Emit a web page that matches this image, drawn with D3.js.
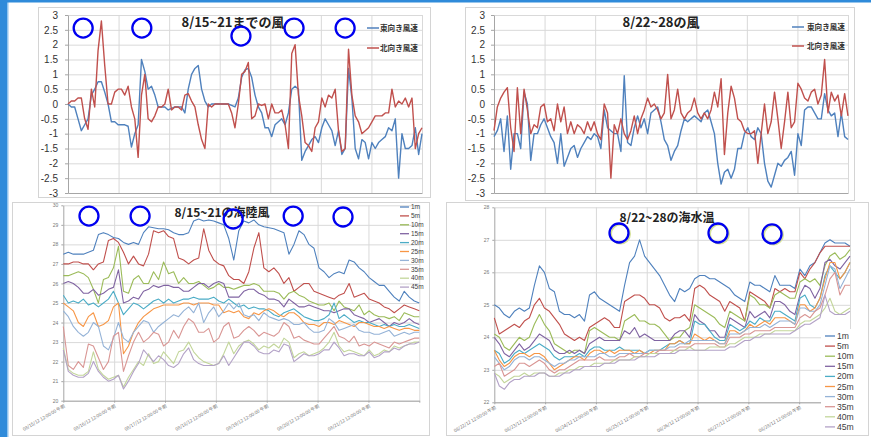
<!DOCTYPE html>
<html><head><meta charset="utf-8">
<script src="https://cdn.jsdelivr.net/npm/d3@7"></script>
<style>body{margin:0;background:#fff}svg{display:block}text{font-family:"Noto Sans CJK JP","Noto Sans",sans-serif}text.lat{font-family:"Liberation Sans",Arial,sans-serif}</style>
</head><body><svg id="c" width="871" height="437"></svg>
<script>
// ---------- DATA ----------
const windSeriesNames = ["東向き風速","北向き風速"];
const windTicks = [3,2.5,2,1.5,1,0.5,0,-0.5,-1,-1.5,-2,-2.5,-3];
const wind1East = [0,-0.1,-0.1,-0.5,-0.9,-0.7,-0.5,0.3,0.5,0.75,0.75,0.4,0,-0.6,-0.6,-0.7,-0.7,-0.7,-0.75,-1.45,-1.0,-0.7,1.5,1.1,0.5,0.6,0.3,-0.1,-0.1,-0.1,-0.2,-0.15,-0.1,-0.1,-0.1,-0.3,0.5,1.0,1.2,1.3,0.5,0.1,-0.1,0,0,0,0,0,0,-0.05,-0.1,0.2,0.9,1.15,1.2,0.9,0.3,-0.1,-0.3,-0.8,-0.8,-1.1,-0.7,-0.6,-0.5,-0.7,-0.3,0.5,0.6,0.5,-1.9,-1.6,-1.4,-1.2,-1.1,-1.3,-0.8,-0.5,-0.7,-0.9,-1.4,-0.9,-1.7,-1.5,1.2,0.2,-1.5,-1.85,-1.2,-1.3,-1.85,-1.3,-1.5,-1.3,-1.2,-1.1,-0.8,-0.9,-0.5,-2.5,-1.0,-1.5,-1.5,-1.4,-0.8,-1.7,-1.0];
const wind1North = [0,0.1,0.1,0.2,0.2,-0.5,-0.85,0.5,-0.1,1.8,2.8,1.3,0.0,0.0,0.4,0.5,0.5,0.3,0.6,-0.1,-0.5,-1.8,0.3,1.0,-0.5,-0.6,-0.4,-0.1,-0.1,0,0.5,-0.2,-0.1,-0.1,-0.2,0.3,0.35,0.1,-0.1,-0.7,-1.2,-1.5,0.0,-0.1,0,0,0,0,0,-0.3,-0.8,0.0,1.0,1.1,1.4,-0.5,-0.4,0.0,-0.05,0.0,-0.5,0.0,-0.3,-0.3,-0.2,-0.7,-1.5,1.7,2.0,0.3,-0.4,-1.3,-1.4,-1.6,-0.8,-0.6,0.2,-0.1,0.3,0.2,0.5,-0.9,-1.6,-1.5,1.85,0.3,-0.4,-0.6,-1.0,-0.9,-0.8,-0.6,-0.4,-0.4,-0.4,-0.3,-0.3,0.5,-0.1,0.1,0.0,0.2,-0.1,0.2,-1.5,-1.0,-0.8];
const wind2East = [-1.1,-0.9,-0.5,-1.6,-0.4,-2.2,-1.0,-1.0,-1.5,0.4,0.0,-1.9,-1.0,-1.0,-0.7,-0.5,-0.8,-1.1,-1.3,-2.0,-1.0,-2.1,-1.8,-1.5,-1.4,-1.8,-1.5,-1.3,-1.1,-1.2,-1.0,-1.1,-1.5,-0.2,-0.8,-0.9,-1.0,-1.0,-1.6,0.95,-1.3,-1.4,-0.8,-0.4,-0.8,-0.5,-1.0,-0.3,-0.2,-0.1,-0.6,-1.2,-1.4,-1.9,-1.6,-1.4,-0.9,-0.5,-0.6,-0.5,-0.4,-0.5,-0.6,-0.3,-0.2,-0.6,-1.0,-2.0,-2.7,-2.3,-2.2,-2.5,-2.2,-1.5,-1.5,-1.0,-0.8,-1.1,-1.2,-0.8,-1.0,-2.0,-2.6,-2.8,-2.4,-2.0,-2.1,-1.9,-1.8,-1.6,-2.4,-1.0,-1.4,-0.2,-0.1,-0.1,-0.3,-0.5,-0.5,0.35,-0.2,-0.4,-0.3,-1.1,-0.3,-1.1,-1.2];
const wind2North = [-0.9,-0.1,0.2,0.4,0.55,-0.8,-1.6,0.55,-1.0,0.5,-0.2,-1.0,-0.7,-0.8,-0.1,0.0,-0.6,-0.5,-0.9,0.0,-0.6,-0.1,-1.0,-0.6,-1.0,-0.7,-0.8,-1.0,-0.6,-0.9,-0.6,-1.0,-1.2,0.0,-0.3,-2.5,-0.7,-1.0,-0.5,-1.0,-1.2,-0.9,-0.4,-1.0,-0.5,-0.2,0.2,-0.1,0.0,-0.2,-0.5,-0.3,1.0,-0.5,-0.2,0.5,-0.3,-0.5,-0.3,-0.2,0.2,-0.3,-0.5,-0.3,-0.5,-0.2,0.4,-0.1,0.85,-1.7,-0.3,0.6,0.2,-0.5,-0.6,-0.9,-1.0,-1.0,-0.9,-2.0,-1.0,0.0,-1.0,-0.6,0.4,-0.5,-1.5,-0.6,0.4,-0.8,-0.6,0.7,0.5,0.2,0.1,0.4,0.5,0.0,0.3,1.5,-0.3,0.4,0.1,0.3,-0.4,0.35,-0.4];

const depthNames = ["1m","5m","10m","15m","20m","25m","30m","35m","40m","45m"];
const tempTicksLeft = [30,29,28,27,26,25,24,23,22,21,20];
const tempTicksRight = [28,27,26,25,24,23,22];
const datesLeft = ["08/15/12 12:00:00 午前","08/16/12 12:00:00 午前","08/17/12 12:00:00 午前","08/18/12 12:00:00 午前","08/19/12 12:00:00 午前","08/20/12 12:00:00 午前","08/21/12 12:00:00 午前"];
const datesRight = ["08/22/12 12:00:00 午前","08/23/12 12:00:00 午前","08/24/12 12:00:00 午前","08/25/12 12:00:00 午前","08/26/12 12:00:00 午前","08/27/12 12:00:00 午前","08/28/12 12:00:00 午前"];

const sea1_1m = [27.5,27.6,27.5,27.5,27.5,27.6,27.7,28.5,28.6,28.5,28.35,28.3,28.1,28.0,28.1,28.0,28.6,28.9,28.85,28.8,28.8,28.75,28.6,28.5,28.5,28.6,29.2,29.3,29.2,29.25,29.2,29.1,29.0,28.3,27.2,28.7,29.2,29.1,29.25,29.0,28.9,28.85,28.8,28.7,28.6,27.5,28.0,28.7,28.5,28.0,27.8,26.8,26.6,26.3,26.5,26.6,26.5,27.2,27.1,26.8,26.6,26.3,26.1,25.9,25.9,25.6,25.3,25.1,25.6,25.3,25.1,25.0];
const sea1_5m = [27.0,27.0,27.1,27.1,27.0,27.0,26.7,27.0,27.1,28.2,28.3,28.1,27.6,27.0,27.4,27.0,26.9,27.5,28.7,28.6,28.7,28.4,28.3,27.3,27.2,27.0,27.2,27.3,28.8,27.7,27.2,27.0,26.9,26.4,26.2,26.2,26.0,26.6,27.8,28.6,26.8,26.6,26.8,26.5,26.0,26.3,25.6,25.8,26.0,26.0,25.6,25.5,25.4,25.3,25.2,25.4,25.5,26.0,25.3,25.4,25.5,25.2,25.1,25.0,24.8,24.7,24.5,24.7,24.9,24.8,24.7,24.6];
const sea1_10m = [26.4,26.4,26.5,26.6,26.5,26.3,25.7,25.0,26.2,26.3,26.8,27.9,25.6,25.5,26.2,26.4,26.0,26.0,26.6,26.2,27.1,26.5,26.6,26.0,26.3,26.0,26.0,26.1,25.9,25.7,25.8,26.0,25.8,25.8,25.7,25.8,25.9,25.9,26.0,25.9,25.6,25.6,25.6,25.5,25.2,25.5,25.6,25.4,25.3,25.1,25.0,24.9,24.9,25.0,24.6,25.1,24.8,24.7,24.6,24.9,24.4,24.6,24.4,24.3,24.3,24.2,24.3,24.1,24.5,24.4,24.3,24.3];
const sea1_15m = [26.0,26.1,26.0,25.8,25.5,25.5,25.7,25.4,25.5,25.7,25.8,26.7,25.0,25.1,25.3,25.2,25.6,25.7,25.9,25.8,25.9,25.9,25.8,25.8,25.6,25.6,25.8,26.0,26.0,25.8,26.0,26.1,26.0,25.3,25.3,25.3,25.6,25.7,25.7,25.5,25.4,25.2,25.2,25.1,24.8,25.2,25.0,24.8,24.8,24.9,24.8,24.7,24.6,24.6,24.5,24.6,24.7,24.7,24.4,24.3,24.2,24.0,24.1,24.2,24.0,23.8,24.0,23.9,24.0,24.2,24.0,23.9];
const sea1_20m = [25.4,25.0,25.1,25.0,25.2,24.9,25.0,24.8,25.0,25.2,25.6,25.0,24.4,24.7,25.0,24.9,24.7,24.9,25.1,25.2,25.0,25.2,25.0,25.1,25.2,25.2,25.3,25.2,25.2,25.2,25.3,25.1,25.0,25.2,25.0,24.8,24.9,24.7,24.8,24.7,24.7,24.6,24.4,24.3,24.5,24.6,24.7,24.5,24.3,24.2,24.1,24.1,24.2,24.4,25.0,24.2,24.4,24.2,24.0,24.1,24.0,24.0,23.9,23.8,23.9,23.8,23.9,23.8,23.8,23.9,23.8,23.7];
const sea1_25m = [25.0,24.8,24.6,24.0,23.8,24.3,24.5,23.8,23.9,24.1,24.8,25.0,22.4,22.8,23.5,24.0,24.3,24.5,24.7,24.8,24.9,24.9,24.9,24.9,25.0,25.0,24.9,25.0,25.0,25.0,24.9,24.9,24.5,24.6,24.5,24.6,24.3,24.2,24.5,24.4,24.6,24.7,24.6,24.4,24.3,24.5,24.5,24.3,24.0,23.9,23.9,23.8,24.0,24.0,23.9,24.1,24.0,23.9,23.8,24.0,24.0,23.9,23.8,23.8,23.7,23.8,23.7,23.6,23.7,23.7,23.6,23.6];
const sea1_30m = [24.6,24.3,23.8,23.5,23.3,23.5,24.0,23.8,22.8,22.6,23.2,24.0,23.2,23.0,23.5,23.8,24.1,24.0,23.5,23.8,24.0,24.2,24.4,24.3,24.6,24.8,24.5,25.0,24.0,24.5,24.8,24.3,24.6,25.0,24.7,25.0,24.4,24.3,24.4,24.1,24.5,24.3,24.2,24.1,24.2,24.1,23.9,23.9,24.0,23.7,23.5,23.5,23.6,24.2,24.0,23.6,23.7,23.8,23.9,23.6,23.5,23.5,23.4,23.4,23.5,23.6,23.3,23.4,23.5,23.4,23.5,23.5];
const sea1_35m = [23.8,21.8,21.6,22.0,21.7,22.9,22.8,22.2,21.6,22.0,23.3,23.5,21.5,22.3,23.0,23.5,23.0,23.2,23.5,23.4,22.8,23.0,23.6,23.2,23.8,24.2,24.0,23.5,23.5,23.7,23.0,23.2,23.8,24.0,23.2,23.3,23.6,23.8,23.6,23.3,23.5,23.4,23.3,23.5,24.0,23.8,23.2,23.3,23.1,23.0,22.9,22.9,23.2,23.5,23.8,23.3,23.2,23.0,23.3,22.8,22.9,22.8,23.0,22.9,22.8,22.7,23.0,22.9,23.0,23.1,23.2,23.2];
const sea1_40m = [22.7,21.6,21.4,21.3,21.3,21.5,22.5,21.6,21.3,21.1,21.2,21.3,20.7,21.2,21.6,22.0,21.8,22.4,21.9,22.0,22.5,22.2,21.9,22.5,22.6,23.0,22.5,22.2,22.0,21.9,21.8,21.9,22.4,23.0,22.4,22.8,23.0,23.1,22.9,22.6,22.8,22.7,22.9,22.7,23.2,23.0,22.2,22.4,22.5,22.3,22.4,22.5,22.7,23.0,23.5,22.8,22.5,22.6,22.5,22.4,22.3,22.6,22.3,22.4,22.6,22.5,22.8,22.7,22.8,22.9,23.0,23.0];
const sea1_45m = [22.6,21.5,21.3,21.2,21.2,21.4,22.0,21.5,21.2,21.0,21.1,21.3,20.6,21.0,21.5,21.9,22.6,22.3,22.0,22.3,22.1,21.8,21.7,21.9,22.4,22.7,22.1,21.9,21.8,21.8,21.8,21.9,22.3,21.8,22.2,22.6,23.0,23.0,22.8,22.5,22.4,22.4,22.6,22.5,22.9,22.8,22.0,22.2,22.4,22.3,22.3,22.4,22.6,22.6,23.0,22.7,22.3,22.4,22.4,22.3,22.3,22.5,22.2,22.3,22.5,22.5,22.7,22.6,22.8,22.9,22.9,23.0];

const sea2_1m = [25.0,24.9,24.7,24.6,24.8,24.9,24.8,24.9,25.6,26.2,26.0,25.5,25.4,24.8,24.7,24.7,24.6,24.7,24.5,25.3,25.4,25.2,25.1,25.0,24.9,24.8,25.6,26.3,26.5,27.0,26.5,26.3,26.1,25.9,25.6,25.3,25.1,25.5,25.4,25.5,25.8,25.9,25.9,25.8,25.8,25.7,25.6,25.5,25.3,25.2,25.1,25.7,25.6,25.6,25.5,25.4,25.9,25.6,25.6,25.6,25.5,26.1,25.9,26.2,26.3,26.6,26.9,27.0,26.9,26.9,26.9,26.8];
const sea2_5m = [24.6,24.1,24.2,24.3,24.4,24.3,24.5,24.6,25.0,25.2,24.9,24.8,24.6,24.4,24.1,24.0,23.9,24.0,23.9,24.3,24.4,24.5,24.6,24.5,24.3,24.3,25.1,25.2,25.3,25.3,25.2,25.0,25.0,24.9,24.6,24.5,24.6,24.6,24.7,24.5,25.5,25.6,25.5,25.3,25.2,25.1,24.8,25.1,25.0,24.9,24.5,25.4,25.3,25.2,25.1,24.9,25.5,25.4,25.5,25.4,25.4,26.0,25.8,26.1,26.3,26.6,26.8,26.8,26.8,26.8,26.8,26.8];
const sea2_10m = [24.1,24.0,23.7,23.6,23.8,24.0,23.9,24.0,24.4,24.7,24.4,24.2,23.8,23.7,23.6,23.5,23.6,23.6,23.5,24.2,24.3,24.2,24.1,24.0,24.0,23.9,24.5,24.6,24.7,24.5,24.5,24.4,24.4,24.3,24.1,23.9,24.0,24.0,24.2,24.3,25.0,24.9,24.8,24.7,24.6,24.4,24.3,24.8,24.7,24.6,24.5,25.3,25.2,25.0,25.0,24.9,25.3,25.4,25.3,25.2,25.2,25.7,25.8,25.7,25.8,25.6,26.2,26.5,26.6,26.4,26.5,26.7];
const sea2_15m = [24.0,23.8,23.5,23.4,23.6,23.8,23.6,23.7,23.9,24.1,24.0,23.9,23.6,23.5,23.5,23.6,23.5,23.6,23.5,23.8,23.9,24.0,23.9,23.9,23.9,23.9,24.2,24.1,24.3,24.0,24.1,24.0,23.9,23.9,23.9,23.9,24.1,24.2,24.2,24.0,24.7,24.5,24.4,24.2,24.2,24.0,24.0,24.6,24.5,24.4,24.3,24.8,24.6,24.7,24.8,24.6,25.1,25.1,25.0,24.8,24.7,25.3,25.6,25.5,25.2,25.5,26.3,26.4,26.2,26.1,26.3,26.5];
const sea2_20m = [23.6,23.5,23.2,23.3,23.5,23.6,23.5,23.6,23.7,23.8,23.7,23.6,23.4,23.3,23.4,23.4,23.4,23.5,23.4,23.6,23.7,23.7,23.6,23.6,23.6,23.7,23.6,23.6,23.6,23.6,23.5,23.6,23.6,23.6,23.7,23.8,23.8,23.9,23.8,23.8,24.5,24.4,24.4,24.2,24.0,23.9,23.9,24.4,24.3,24.2,24.3,24.5,24.4,24.6,24.5,24.5,24.8,24.8,24.7,24.6,24.5,25.2,25.3,25.0,24.9,25.2,25.9,26.2,26.0,25.8,26.0,26.3];
const sea2_25m = [23.6,23.3,23.1,23.2,23.4,23.5,23.5,23.4,23.5,23.5,23.4,23.2,23.0,23.1,23.2,23.3,23.4,23.4,23.3,23.5,23.6,23.6,23.5,23.6,23.5,23.6,23.6,23.6,23.5,23.6,23.5,23.5,23.6,23.6,23.6,23.8,23.8,23.9,23.8,23.8,24.1,24.0,23.9,24.0,23.9,23.8,23.8,24.2,24.2,24.1,24.2,24.4,24.3,24.4,24.5,24.4,24.6,24.6,24.6,24.5,24.4,25.0,25.0,24.8,24.9,25.2,25.8,26.3,26.3,25.8,26.0,26.3];
const sea2_30m = [23.4,23.2,23.0,23.1,23.3,23.4,23.4,23.3,23.4,23.4,23.3,23.2,23.1,23.2,23.2,23.3,23.3,23.4,23.4,23.4,23.4,23.5,23.5,23.4,23.4,23.5,23.5,23.5,23.5,23.5,23.5,23.6,23.6,23.6,23.6,23.7,23.7,23.8,23.8,23.9,23.9,23.9,23.9,23.9,23.9,23.8,23.8,24.1,24.1,24.1,24.2,24.3,24.3,24.3,24.4,24.3,24.4,24.5,24.5,24.5,24.4,24.9,24.9,24.8,24.8,25.0,25.6,26.2,26.1,25.5,25.8,26.1];
const sea2_35m = [23.1,23.2,22.8,22.9,23.0,23.2,23.2,23.1,23.2,23.3,23.2,23.0,22.9,23.0,23.0,23.1,23.2,23.3,23.3,23.3,23.3,23.4,23.3,23.3,23.3,23.4,23.4,23.5,23.4,23.4,23.5,23.5,23.5,23.6,23.6,23.6,23.6,23.7,23.7,23.7,23.8,23.8,23.8,23.8,23.8,23.7,23.7,24.0,24.0,24.0,24.1,24.1,24.2,24.2,24.2,24.2,24.3,24.3,24.3,24.3,24.3,24.6,24.7,24.6,24.8,24.9,25.3,25.8,26.0,25.3,25.6,25.6];
const sea2_40m = [22.9,22.8,22.6,22.7,22.8,22.8,22.9,22.8,22.9,22.9,22.9,22.8,22.8,22.9,22.9,23.0,23.0,23.1,23.1,23.1,23.2,23.2,23.2,23.2,23.3,23.3,23.3,23.3,23.4,23.4,23.4,23.5,23.5,23.5,23.5,23.5,23.6,23.6,23.6,23.7,23.6,23.6,23.6,23.7,23.7,23.7,23.7,23.8,23.8,23.9,24.0,24.0,24.0,24.1,24.1,24.1,24.2,24.2,24.2,24.2,24.2,24.4,24.5,24.5,24.6,24.7,24.9,25.2,24.8,24.7,24.8,24.9];
const sea2_45m = [22.9,22.5,22.4,22.6,22.7,22.7,22.8,22.8,22.8,22.9,22.9,22.8,22.8,22.8,22.9,22.9,23.0,23.0,23.1,23.1,23.1,23.1,23.2,23.2,23.2,23.3,23.3,23.3,23.3,23.4,23.4,23.4,23.4,23.5,23.5,23.5,23.5,23.6,23.6,23.6,23.6,23.6,23.6,23.6,23.6,23.6,23.6,23.7,23.7,23.8,23.9,23.9,24.0,24.0,24.1,24.1,24.1,24.1,24.1,24.1,24.2,24.3,24.4,24.4,24.5,24.6,25.3,24.8,24.7,24.7,24.7,24.8];

// annotation circles in data units [day, value]
const marks1 = [[0.30,2.56],[1.46,2.56],[3.42,2.29],[4.47,2.56],[5.48,2.56]];
const marks3 = [[0.505,29.45],[1.51,29.45],[3.34,29.3],[4.52,29.45],[5.50,29.4]];
const marks4 = [[2.454,27.21],[4.402,27.21],[5.465,27.18]];

const windColors = ["#4F81BD","#C0504D"];
const depthColors = ["#4F81BD","#C0504D","#9BBB59","#8064A2","#4BACC6","#F79646","#95B3D7","#D99694","#C3D69B","#B3A2C7"];

// ---------- DRAW ----------
const svg = d3.select("#c");
svg.append("rect").attr("width",871).attr("height",437).attr("fill","#fff");

function frame(x,y,w,h){
  svg.append("rect").attr("x",x).attr("y",y).attr("width",w).attr("height",h)
    .attr("fill","#fff").attr("stroke","#d4d4d4").attr("stroke-width",1);
}
frame(38.5,7.5,392,190);
frame(465.5,7.5,389,193);
frame(12.5,202.5,417,233);
frame(446.5,202.5,422,233);

svg.append("rect").attr("x",0).attr("y",0).attr("width",7).attr("height",437).attr("fill","#2F8BDA");
svg.append("rect").attr("x",7).attr("y",0).attr("width",1.5).attr("height",437).attr("fill","#8FC3EE");
svg.append("rect").attr("x",0).attr("y",0).attr("width",871).attr("height",2.5).attr("fill","#2F8BDA");

function chart(o){
  const g = svg.append("g");
  const x = d3.scaleLinear().domain([0,7]).range([o.x0,o.x1]);
  const y = d3.scaleLinear().domain(o.yDomain).range([o.yb,o.yt]);
  g.append("g").attr("transform",`translate(${o.x0},0)`)
    .call(d3.axisLeft(y).tickValues(o.yTicks).tickSize(-(o.x1-o.x0)).tickFormat(""))
    .call(a=>a.select(".domain").remove())
    .selectAll("line").attr("stroke","#d9d9d9");
  g.append("g").attr("transform",`translate(0,${o.yb})`)
    .call(d3.axisBottom(x).tickValues(d3.range(1,8)).tickSize(-(o.yb-o.yt)).tickFormat(""))
    .call(a=>a.select(".domain").remove())
    .selectAll("line").attr("stroke","#d9d9d9");
  const ya = g.append("g").attr("transform",`translate(${o.x0},0)`)
    .call(d3.axisLeft(y).tickValues(o.yTicks).tickSize(o.yTickSize).tickSizeOuter(0).tickPadding(o.yPad).tickFormat(d=>String(d)));
  ya.select(".domain").attr("stroke","#a6a6a6");
  ya.selectAll("line").attr("stroke","#a6a6a6");
  ya.selectAll("text").attr("class","lat").attr("font-size",o.yFont).attr("fill",o.yColor);
  const xa = g.append("g").attr("transform",`translate(0,${o.yb})`)
    .call(d3.axisBottom(x).tickValues(d3.range(0,8)).tickSize(o.xTickSize).tickSizeOuter(0).tickFormat((d,i)=> o.xLabels && i<o.xLabels.length ? o.xLabels[i] : ""));
  xa.select(".domain").attr("stroke","#a6a6a6");
  xa.selectAll("line").attr("stroke","#a6a6a6");
  xa.selectAll("text").attr("font-size",4.6).attr("fill","#6f6f6f")
    .attr("text-anchor","end").attr("x",0).attr("y",0).attr("dy","0.3em")
    .attr("transform","translate(1,5) rotate(-30)");
  o.series.forEach((s,k)=>{
    const n = s.length;
    const line = d3.line().x((d,i)=>x(i*7/(n-1))).y(d=>y(d));
    g.append("path").datum(s).attr("d",line).attr("fill","none")
      .attr("stroke",o.colors[k]).attr("stroke-width",o.lw).attr("stroke-linejoin","round");
  });
  return {x,y,g};
}

const c1 = chart({x0:68,x1:422,yt:15,yb:193,yDomain:[-3,3],yTicks:windTicks,yTickSize:3,yPad:7,yFont:10,yColor:"#333",
  xTickSize:0,xLabels:null,series:[wind1East,wind1North],colors:windColors,lw:1.4});
const c2 = chart({x0:494,x1:848,yt:15,yb:193,yDomain:[-3,3],yTicks:windTicks,yTickSize:3,yPad:6,yFont:10,yColor:"#333",
  xTickSize:0,xLabels:null,series:[wind2East,wind2North],colors:windColors,lw:1.4});
const c3 = chart({x0:63.3,x1:419.3,yt:205.3,yb:400.7,yDomain:[20,30],yTicks:tempTicksLeft,yTickSize:2,yPad:3,yFont:5,yColor:"#777",
  xTickSize:2,xLabels:datesLeft,
  series:[sea1_1m,sea1_5m,sea1_10m,sea1_15m,sea1_20m,sea1_25m,sea1_30m,sea1_35m,sea1_40m,sea1_45m],
  colors:depthColors,lw:1.1});
const c4 = chart({x0:494.3,x1:850,yt:207.3,yb:402.3,yDomain:[22,28],yTicks:tempTicksRight,yTickSize:2,yPad:3,yFont:5,yColor:"#777",
  xTickSize:2,xLabels:datesRight,
  series:[sea2_1m,sea2_5m,sea2_10m,sea2_15m,sea2_20m,sea2_25m,sea2_30m,sea2_35m,sea2_40m,sea2_45m],
  colors:depthColors,lw:1.1});

function title(t,x,y,fs){
  svg.append("text").attr("x",x).attr("y",y).attr("text-anchor","middle").attr("font-size",fs)
    .attr("font-weight","bold").attr("fill","#222").text(t);
}
title("8/15~21までの風",233,27,13);
title("8/22~28の風",661,27,13);
title("8/15~21の海陸風",222,217,12);
title("8/22~28の海水温",667,222,12);

function windLegend(lx,tx,ys){
  windSeriesNames.forEach((nm,i)=>{
    svg.append("line").attr("x1",lx).attr("x2",lx+12).attr("y1",ys[i]).attr("y2",ys[i])
      .attr("stroke",windColors[i]).attr("stroke-width",1.5);
    svg.append("text").attr("x",tx).attr("y",ys[i]).attr("dy","0.35em").attr("font-size",7.6)
      .attr("font-weight","bold").attr("fill","#333").text(nm);
  });
}
windLegend(367,380,[28,48]);
windLegend(792,807,[27,46]);

function depthLegend(lx,len,tx,y0,dy,fs,bg){
  if(bg) svg.append("rect").attr("x",bg[0]).attr("y",bg[1]).attr("width",bg[2]).attr("height",bg[3]).attr("fill","#fff");
  depthNames.forEach((nm,i)=>{
    const yy = y0+dy*i;
    svg.append("line").attr("x1",lx).attr("x2",lx+len).attr("y1",yy).attr("y2",yy)
      .attr("stroke",depthColors[i]).attr("stroke-width",1.3);
    svg.append("text").attr("class","lat").attr("x",tx).attr("y",yy).attr("dy","0.35em").attr("font-size",fs)
      .attr("fill","#404040").text(nm);
  });
}
depthLegend(400,9,411,207,8.9,6.5,null);
depthLegend(825,10,837,336,10.1,8.6,[821,329,46,104]);

function circles(c,pts,shadow){
  pts.forEach(p=>{
    const cx=c.x(p[0]), cy=c.y(p[1]);
    if(shadow) svg.append("circle").attr("cx",cx+1.5).attr("cy",cy+1).attr("r",9.5)
      .attr("fill","none").attr("stroke","#d6e29a").attr("stroke-width",2);
    svg.append("circle").attr("cx",cx).attr("cy",cy).attr("r",9.5)
      .attr("fill","none").attr("stroke","#0000F0").attr("stroke-width",2.3);
  });
}
circles(c1,marks1,false);
circles(c3,marks3,false);
circles(c4,marks4,true);
</script>
</body></html>
